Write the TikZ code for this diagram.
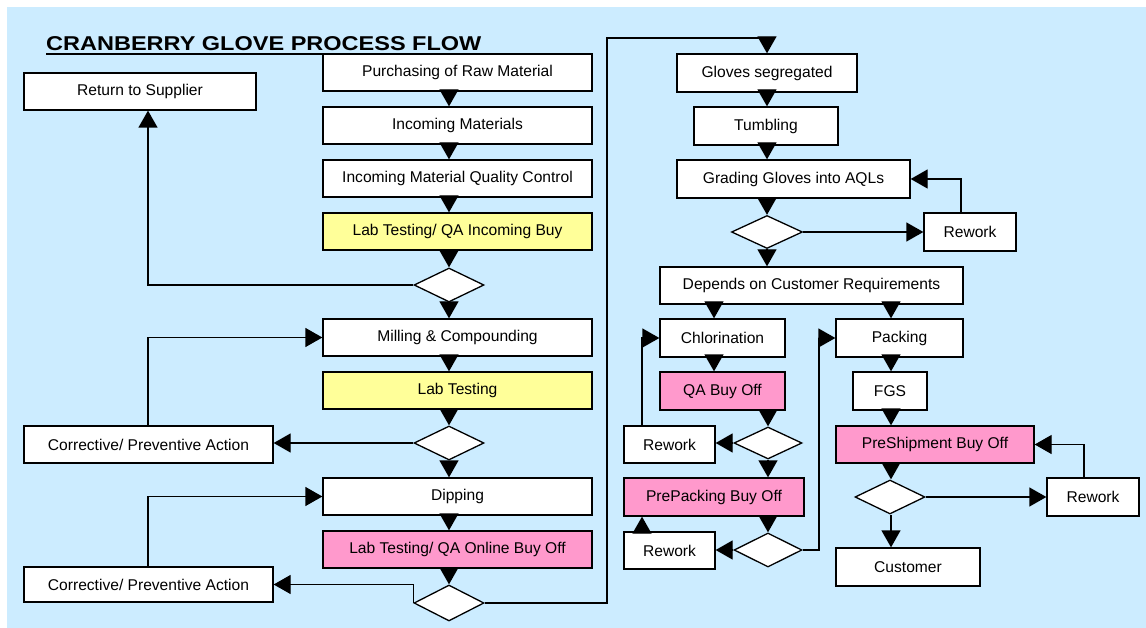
\documentclass[tikz,border=0pt]{standalone}
\usepackage{fontspec}
\setmainfont{Liberation Sans}
\usetikzlibrary{arrows.meta,shapes.geometric,calc}
\definecolor{bg}{RGB}{204,236,255}
\definecolor{yel}{RGB}{255,255,153}
\definecolor{pnk}{RGB}{255,153,204}
\begin{document}
\begin{tikzpicture}[x=1pt,y=-1pt,
  box/.style={draw=black,line width=1.3pt,fill=white,inner sep=0pt,
    minimum height=37pt,font=\fontsize{15.6}{18}\selectfont},
  ybox/.style={box,fill=yel},
  pbox/.style={box,fill=pnk},
  dia/.style={diamond,draw=black,fill=white,line width=1.3pt,inner sep=0pt,
    minimum width=70pt,minimum height=34pt},
  arr/.style={-{Triangle[length=17pt,width=19pt]},line width=1.3pt},
  ln/.style={line width=1.3pt}]
\fill[white] (0,0) rectangle (1146,628);
\fill[bg] (7,7) rectangle (1146,628);
\useasboundingbox (0,0) rectangle (1146,628);

% title
\node[anchor=base west,inner sep=0pt,font=\bfseries\fontsize{20}{24}\selectfont] (title) at (46,51)
  {\scalebox{1.175}[1]{CRANBERRY GLOVE PROCESS FLOW}};
\draw[line width=1.5pt] ([yshift=-3pt]title.base west) -- ([yshift=-3pt]title.base east);

% column coordinates
\coordinate (cL) at (449,0);
\coordinate (cA) at (148,0);
\coordinate (cR) at (767,0);
\coordinate (cB) at (961,0);
\coordinate (cCh) at (714,0);
\coordinate (cP) at (891,0);
\coordinate (cRw) at (642,0);
\coordinate (cC) at (819,0);
\coordinate (cD) at (1084,0);
\coordinate (loopA) at (607,38);

% left column
\node[box,minimum width=269pt] (purch) at (457.5,72.5) {Purchasing of Raw Material};
\node[box,minimum width=269pt] (inc) at (457.5,125.5) {Incoming Materials};
\node[box,minimum width=269pt] (iqc) at (457.5,178.5) {Incoming Material Quality Control};
\node[ybox,minimum width=269pt] (labin) at (457.5,231.5) {Lab Testing/ QA Incoming Buy};
\node[dia] (d1) at (449,285) {};
\node[box,minimum width=269pt] (mill) at (457.5,337.5) {Milling \& Compounding};
\node[ybox,minimum width=269pt] (lab) at (457.5,390.5) {Lab Testing};
\node[dia] (d2) at (449,443) {};
\node[box,minimum width=269pt] (dip) at (457.5,496.5) {Dipping};
\node[pbox,minimum width=269pt] (labon) at (457.5,549.5) {Lab Testing/ QA Online Buy Off};
\node[dia,minimum height=36pt] (d3) at (449,603) {};

\node[box,minimum width=232pt] (ret) at (140,91.5) {Return to Supplier};
\node[box,minimum width=249pt] (cpa1) at (148.5,444.5) {Corrective/ Preventive Action};
\node[box,minimum width=249pt,minimum height=35pt] (cpa2) at (148.5,584.5) {Corrective/ Preventive Action};

% right part
\node[box,minimum width=180pt,minimum height=38pt] (glov) at (767,73) {Gloves segregated};
\node[box,minimum width=144pt,minimum height=38pt] (tumb) at (766,126) {Tumbling};
\node[box,minimum width=233pt,minimum height=38pt] (grad) at (793.5,179) {Grading Gloves into AQLs};
\node[dia,minimum width=71pt,minimum height=33pt] (d4) at (767,232) {};
\node[box,minimum width=92pt,minimum height=38pt] (rw1) at (970,232) {Rework};
\node[box,minimum width=303pt] (dep) at (811.5,285.5) {Depends on Customer Requirements};

\node[box,minimum width=125pt,minimum height=38pt] (chl) at (722.5,338) {Chlorination};
\node[pbox,minimum width=125pt,minimum height=38pt] (qa) at (722.5,391) {QA Buy Off};
\node[dia,minimum width=68pt,minimum height=32pt] (d5) at (768,443) {};
\node[box,minimum width=91pt] (rw2) at (669.5,444.5) {Rework};
\node[pbox,minimum width=180pt,minimum height=38pt] (prep) at (714,497) {PrePacking Buy Off};
\node[dia,minimum width=68pt] (d6) at (768,550) {};
\node[box,minimum width=91pt] (rw3) at (669.5,550.5) {Rework};

\node[box,minimum width=127pt,minimum height=38pt] (pack) at (899.5,338) {Packing};
\node[box,minimum width=74pt,minimum height=38pt] (fgs) at (890,391) {FGS};
\node[pbox,minimum width=198pt] (presh) at (935,444.5) {PreShipment Buy Off};
\node[dia] (d7) at (890,497) {};
\node[box,minimum width=92pt,minimum height=38pt] (rw4) at (1093,497) {Rework};
\node[box,minimum width=144pt,minimum height=38pt] (cust) at (908,567) {Customer};

% connectors left column
\draw[arr] (purch.south -| cL) -- (inc.north -| cL);
\draw[arr] (inc.south -| cL) -- (iqc.north -| cL);
\draw[arr] (iqc.south -| cL) -- (labin.north -| cL);
\draw[arr] (labin.south -| cL) -- (d1.north);
\draw[arr] (d1.south) -- (mill.north -| cL);
\draw[arr] (d1.west) -| (ret.south -| cA);
\draw[arr] (mill.south -| cL) -- (lab.north -| cL);
\draw[arr] (lab.south -| cL) -- (d2.north);
\draw[arr] (d2.south) -- (dip.north -| cL);
\draw[arr] (d2.west) -- (d2.west -| cpa1.east);
\draw[arr] (cpa1.north -| cA) |- (mill.west);
\draw[arr] (dip.south -| cL) -- (labon.north -| cL);
\draw[arr] (labon.south -| cL) -- (d3.north);
\draw[arr] (d3.west) -- (d3.west |- cpa2.east) -- (cpa2.east);
\draw[arr] (cpa2.north -| cA) |- (dip.west);
\draw[arr] (d3.east) -| (loopA) -| (glov.north);

% connectors right
\draw[arr] (glov.south -| cR) -- (tumb.north -| cR);
\draw[arr] (tumb.south -| cR) -- (grad.north -| cR);
\draw[arr] (grad.south -| cR) -- (d4.north);
\draw[arr] (d4.east) -- (rw1.west);
\draw[arr] (rw1.north -| cB) |- (grad.east);
\draw[arr] (d4.south) -- (dep.north -| cR);
\draw[arr] (dep.south -| cCh) -- (chl.north -| cCh);
\draw[arr] (dep.south -| cP) -- (pack.north -| cP);

\draw[arr] (chl.south -| cCh) -- (qa.north -| cCh);
\draw[arr] (qa.south -| d5.north) -- (d5.north);
\draw[arr] (d5.west) -- (rw2.east |- d5.west);
\draw[arr] (rw2.north -| cRw) |- (chl.west);
\draw[arr] (d5.south) -- (prep.north -| d5.south);
\draw[arr] (prep.south -| d6.north) -- (d6.north);
\draw[arr] (d6.west) -- (rw3.east |- d6.west);
\draw[arr] (rw3.north -| cRw) -- (prep.south -| cRw);
\draw[arr] (d6.east) -| (cC |- pack.west) -- (pack.west);

\draw[arr] (pack.south -| cP) -- (fgs.north -| cP);
\draw[arr] (fgs.south -| cP) -- (presh.north -| cP);
\draw[arr] (presh.south -| cP) -- (d7.north -| cP);
\draw[arr] (d7.east) -- (rw4.west |- d7.east);
\draw[arr] (rw4.north -| cD) |- (presh.east);
\draw[arr] (d7.south -| cP) -- (cust.north -| cP);
\end{tikzpicture}
\end{document}
